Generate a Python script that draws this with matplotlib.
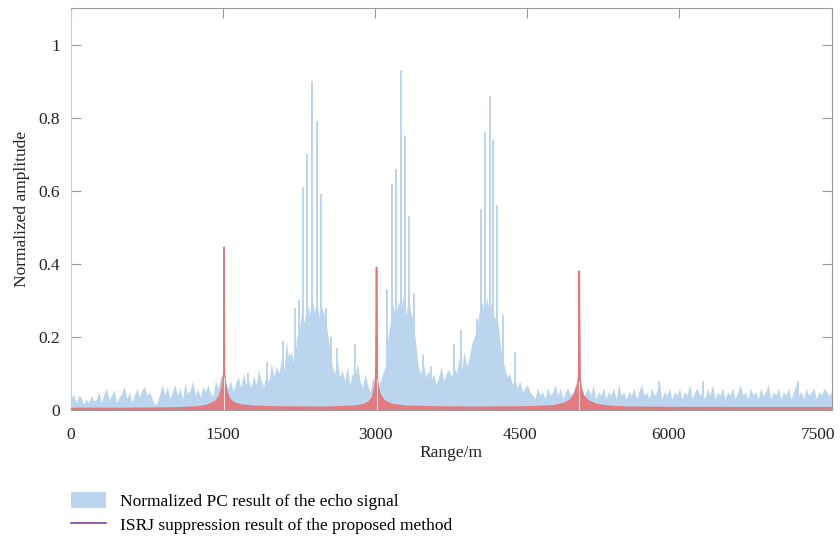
import numpy as np
import matplotlib.pyplot as plt
from matplotlib.patches import Patch
from matplotlib.lines import Line2D
from matplotlib.transforms import ScaledTranslation

plt.rcParams["font.family"] = ["Liberation Serif", "DejaVu Serif"]

# ---- Data ----
# blue echo (PC result) envelope, sampled every 25 m from 0 to 7500 m
step = 25
blue_amp = [
    0.03, 0.045, 0.02, 0.04, 0.035, 0.015, 0.03, 0.02, 0.04, 0.025, 0.03, 0.05, 0.02, 0.045, 0.06, 0.03, 0.04, 0.055, 0.02, 0.035,
    0.045, 0.065, 0.03, 0.05, 0.02, 0.04, 0.06, 0.035, 0.055, 0.065, 0.04, 0.05, 0.03, 0.015, 0.02, 0.045, 0.07, 0.04, 0.065, 0.03,
    0.05, 0.07, 0.04, 0.06, 0.03, 0.075, 0.045, 0.055, 0.08, 0.04, 0.06, 0.035, 0.065, 0.05, 0.07, 0.045, 0.04, 0.08, 0.06, 0.09,
    0.1, 0.07, 0.06, 0.08, 0.05, 0.075, 0.09, 0.06, 0.1, 0.07, 0.085, 0.06, 0.095, 0.07, 0.11, 0.08, 0.065, 0.1, 0.075, 0.13,
    0.09, 0.12, 0.1, 0.14, 0.11, 0.19, 0.13, 0.16, 0.12, 0.2, 0.22, 0.27, 0.24, 0.3, 0.26, 0.31, 0.27, 0.3, 0.25, 0.28,
    0.26, 0.22, 0.17, 0.12, 0.1, 0.14, 0.09, 0.11, 0.08, 0.12, 0.07, 0.1, 0.09, 0.13, 0.08, 0.06, 0.1, 0.07, 0.05, 0.09,
    0.07, 0.05, 0.08, 0.1, 0.12, 0.2, 0.24, 0.29, 0.25, 0.3, 0.27, 0.31, 0.26, 0.3, 0.27, 0.24, 0.18, 0.12, 0.1, 0.13,
    0.09, 0.11, 0.08, 0.1, 0.07, 0.09, 0.12, 0.08, 0.1, 0.11, 0.09, 0.12, 0.1, 0.14, 0.11, 0.16, 0.12, 0.14, 0.18, 0.2,
    0.22, 0.27, 0.3, 0.26, 0.31, 0.27, 0.3, 0.25, 0.26, 0.2, 0.14, 0.12, 0.09, 0.1, 0.07, 0.09, 0.06, 0.08, 0.05, 0.06,
    0.07, 0.05, 0.04, 0.03, 0.06, 0.04, 0.05, 0.03, 0.06, 0.04, 0.05, 0.07, 0.04, 0.06, 0.03, 0.05, 0.06, 0.04, 0.05, 0.07,
    0.04, 0.06, 0.03, 0.05, 0.06, 0.04, 0.07, 0.03, 0.05, 0.04, 0.06, 0.03, 0.05, 0.04, 0.06, 0.03, 0.07, 0.04, 0.05, 0.03,
    0.05, 0.04, 0.06, 0.03, 0.05, 0.07, 0.04, 0.05, 0.03, 0.06, 0.04, 0.05, 0.08, 0.03, 0.05, 0.04, 0.06, 0.03, 0.05, 0.04,
    0.06, 0.03, 0.05, 0.04, 0.07, 0.03, 0.05, 0.06, 0.04, 0.05, 0.03, 0.06, 0.04, 0.07, 0.03, 0.05, 0.04, 0.06, 0.03, 0.05,
    0.04, 0.06, 0.03, 0.05, 0.07, 0.04, 0.05, 0.03, 0.06, 0.04, 0.05, 0.03, 0.06, 0.04, 0.05, 0.07, 0.03, 0.05, 0.04, 0.06,
    0.03, 0.05, 0.04, 0.06, 0.03, 0.05, 0.07, 0.04, 0.05, 0.03, 0.06, 0.04, 0.05, 0.06, 0.03, 0.05, 0.04, 0.06, 0.05, 0.04,
    0.05,
]
blue_range = np.arange(len(blue_amp)) * step

# thin spikes of the echo (jamming false targets and larger noise peaks)
spike_range = [1750, 1935, 2090, 2160, 2205, 2250, 2290, 2330, 2380, 2428, 2468, 2517, 2560, 2625, 2800,
               3120, 3170, 3208, 3255, 3294, 3337, 3378, 3475, 3550, 3780, 3850,
               4008, 4047, 4087, 4130, 4166, 4205, 4264, 4383, 5795, 6230, 7170]
spike_amp = [0.10, 0.13, 0.19, 0.15, 0.28, 0.30, 0.61, 0.70, 0.90, 0.79, 0.59, 0.28, 0.20, 0.17, 0.18,
             0.33, 0.62, 0.66, 0.93, 0.75, 0.53, 0.32, 0.15, 0.12, 0.18, 0.22,
             0.25, 0.55, 0.76, 0.86, 0.74, 0.56, 0.26, 0.16, 0.08, 0.08, 0.08]

# ISRJ suppression result (red)
red_range = [0, 500, 1000, 1250, 1350, 1420, 1460, 1485, 1500, 1507, 1510, 1513, 1522, 1535, 1560, 1600, 1680, 1800,
             2000, 2500, 2800, 2880, 2940, 2975, 2995, 3006, 3013, 3020, 3030, 3050, 3090, 3160, 3300, 3600,
             4000, 4500, 4750, 4860, 4930, 4970, 4995, 5006, 5012, 5018, 5030, 5055, 5100, 5180, 5300, 5500, 6500, 7500]
red_amp = [0.004, 0.004, 0.005, 0.008, 0.013, 0.022, 0.035, 0.055, 0.08, 0.1, 0.445, 0.1, 0.075, 0.05, 0.032, 0.02, 0.013, 0.01,
           0.008, 0.007, 0.01, 0.014, 0.022, 0.035, 0.06, 0.09, 0.39, 0.09, 0.06, 0.04, 0.025, 0.015, 0.01, 0.008,
           0.007, 0.008, 0.011, 0.017, 0.028, 0.045, 0.07, 0.09, 0.38, 0.09, 0.06, 0.038, 0.025, 0.015, 0.01, 0.007, 0.006, 0.006]
notch_range = [1512, 3015, 5014]
notch_amp = [0.09, 0.085, 0.08]

BLUE = "#bcd5ee"
RED = "#e5767a"
PURPLE = "#7d3f98"
GRAY = "#9a9a9a"

# ---- Figure ----
fig = plt.figure(figsize=(8.4, 5.47), dpi=100)
ax = fig.add_axes([0.0845, 0.2505, 0.9055, 0.7345])
ax.set_axisbelow(True)

ax.fill_between(blue_range, 0, blue_amp, color=BLUE, lw=0, zorder=1)
ax.vlines(spike_range, 0, spike_amp, color=BLUE, lw=1.4, zorder=1)

ax.fill_between(red_range, 0, red_amp, color=RED, lw=0, alpha=0.95, zorder=2)
ax.plot(red_range, red_amp, color=RED, lw=1.2, zorder=3)
ax.vlines(notch_range, 0, notch_amp, color="white", lw=0.8, alpha=0.8, zorder=4)

ax.set_xlim(0, 7500)
ax.set_ylim(0, 1.1)
ax.set_xticks([0, 1500, 3000, 4500, 6000, 7500])
ax.set_yticks([0, 0.2, 0.4, 0.6, 0.8, 1])
ax.set_yticklabels(["0", "0.2", "0.4", "0.6", "0.8", "1"])

for side in ["top", "right", "bottom"]:
    ax.spines[side].set_color(GRAY)
ax.spines["left"].set_color("#cfcfcf")
ax.tick_params(direction="in", length=7, width=0.8, color=GRAY,
               top=True, right=True, labelsize=12.5, colors="#222222")
ax.tick_params(axis="x", pad=12)
ax.tick_params(axis="y", pad=8)

# the right-hand range labels sit a little left of their ticks in the original
label_shift = [0, 0, 0, -7, -11, -13]
for lab, dx in zip(ax.get_xticklabels(), label_shift):
    lab.set_transform(lab.get_transform() + ScaledTranslation(dx / 100, 0, fig.dpi_scale_trans))

ax.set_xlabel("Range/m", fontsize=12.5, labelpad=2, color="#222222")
ax.set_ylabel("Normalized amplitude", fontsize=12.5, labelpad=6, color="#222222")

handles = [
    Patch(facecolor=BLUE, edgecolor="none"),
    Line2D([0], [0], color=PURPLE, lw=1.2),
]
labels = [
    "Normalized PC result of the echo signal",
    "ISRJ suppression result of the proposed method",
]
fig.legend(handles, labels, loc="upper left", bbox_to_anchor=(0.066, 0.13),
           frameon=False, fontsize=12.5, handlelength=2.0, handleheight=1.1,
           labelspacing=0.35, handletextpad=0.8)

fig.savefig("out.png", dpi=100)
